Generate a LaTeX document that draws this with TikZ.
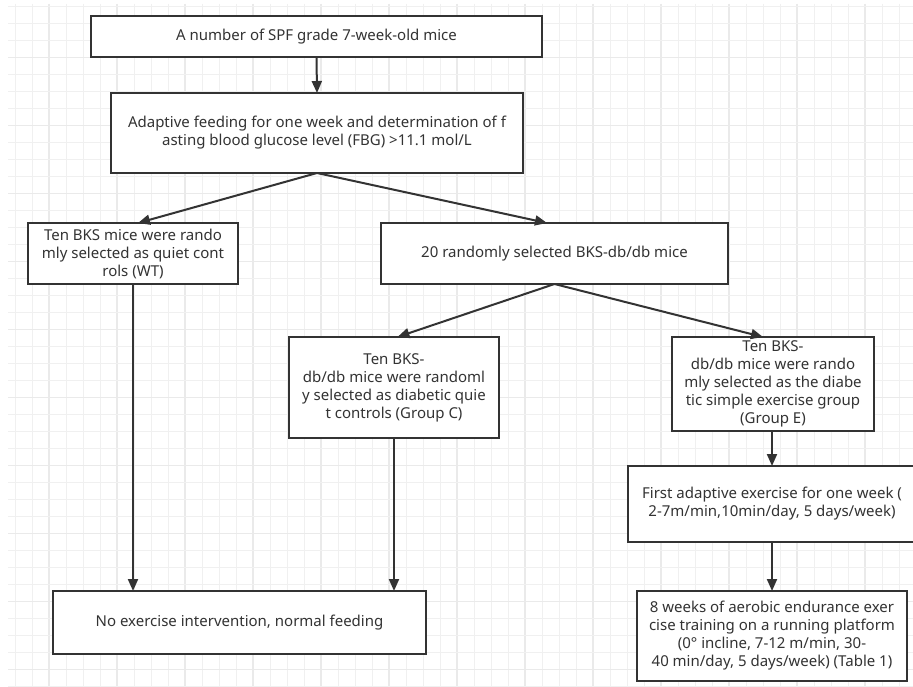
\documentclass[tikz,border=0pt]{standalone}
\usepackage{fontspec}
\setmainfont{Noto Sans}
\usetikzlibrary{arrows.meta}
\definecolor{ink}{HTML}{333333}
\definecolor{gridminor}{HTML}{F0F0F0}
\definecolor{gridmajor}{HTML}{EAEAEA}
\tikzset{
  box/.style={draw=ink, line width=2pt, fill=white, text=ink, align=center,
    font=\fontsize{15}{18}\selectfont, inner sep=0pt, outer sep=0pt},
  conn/.style={draw=ink, line width=2pt, -{Triangle[length=12pt,width=10pt]}},
  gminor/.style={draw=gridminor, line width=1pt},
  gmajor/.style={draw=gridmajor, line width=1.3pt}
}
\begin{document}
\begin{tikzpicture}[x=1pt,y=-1pt]
\useasboundingbox (0,0) rectangle (913,687);
\fill[white] (0,0) rectangle (913,687);
\begin{scope}
\clip (8,4) rectangle (913,687);
\foreach \k in {0,...,53} {
  \pgfmathtruncatemacro{\m}{mod(\k,4)}
  \ifnum\m=2 \draw[gmajor] ({15+17*\k},4) -- ({15+17*\k},687);
  \else \draw[gminor] ({15+17*\k},4) -- ({15+17*\k},687); \fi
}
\foreach \k in {0,...,40} {
  \pgfmathtruncatemacro{\m}{mod(\k,4)}
  \ifnum\m=3 \draw[gmajor] (8,{6.5+17*\k}) -- (913,{6.5+17*\k});
  \else \draw[gminor] (8,{6.5+17*\k}) -- (913,{6.5+17*\k}); \fi
}
\end{scope}

\node[box, minimum width=451pt, minimum height=41pt] (b1) at (316.5,36.5)
  {A number of SPF grade 7-week-old mice};
\node[box, minimum width=412pt, minimum height=80pt] (b2) at (317,133)
  {Adaptive feeding for one week and determination of f\\asting blood glucose level (FBG) >11.1 mol/L};
\node[box, minimum width=210pt, minimum height=61pt] (b3) at (133,253.5)
  {Ten BKS mice were rando\\mly selected as quiet cont\\rols (WT)};
\node[box, minimum width=347pt, minimum height=61pt] (b4) at (554.5,253.5)
  {20 randomly selected BKS-db/db mice};
\node[box, minimum width=210pt, minimum height=101pt] (b5) at (394,387.5)
  {Ten BKS-\\db/db mice were randoml\\y selected as diabetic quie\\t controls (Group C)};
\node[box, minimum width=202pt, minimum height=94pt] (b6) at (773,384)
  {Ten BKS-\\db/db mice were rando\\mly selected as the diabe\\tic simple exercise group\\(Group E)};
\node[box, minimum width=288pt, minimum height=76pt] (b7) at (772,504)
  {First adaptive exercise for one week (\\2-7m/min,10min/day, 5 days/week)};
\node[box, minimum width=270pt, minimum height=90pt] (b8) at (772,636)
  {8 weeks of aerobic endurance exer\\cise training on a running platform\\(0° incline, 7-12 m/min, 30-\\40 min/day, 5 days/week) (Table 1)};
\node[box, minimum width=373pt, minimum height=63pt] (b9) at (239.5,622.5)
  {No exercise intervention, normal feeding};

\draw[conn] (b1.south) -- (b2.north);
\draw[conn] (b2.south) -- ([xshift=5pt]b3.north);
\draw[conn] (b2.south) -- ([xshift=-7.5pt]b4.north);
\draw[conn] (b4.south) -- ([xshift=3.5pt]b5.north);
\draw[conn] (b4.south) -- ([xshift=-10pt]b6.north);
\draw[conn] (b3.south) -- (b3.south |- b9.north);
\draw[conn] (b5.south) -- (b5.south |- b9.north);
\draw[conn] ([xshift=-1pt]b6.south) -- (b7.north);
\draw[conn] (b7.south) -- (b8.north);
\end{tikzpicture}
\end{document}
